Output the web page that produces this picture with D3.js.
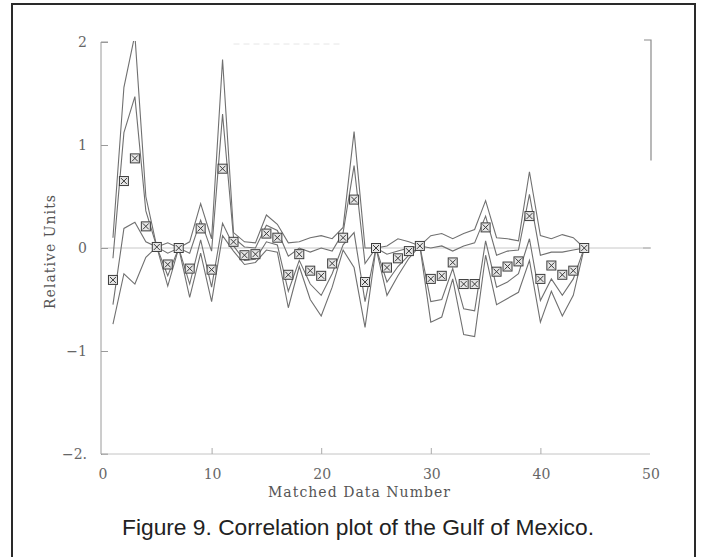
<!DOCTYPE html>
<html>
<head>
<meta charset="utf-8">
<script src="https://cdn.jsdelivr.net/npm/d3@7/dist/d3.min.js"></script>
<style>
  html, body { margin: 0; padding: 0; background: #fff; }
  svg { display: block; }
</style>
</head>
<body>
<svg id="chart" width="702" height="557"></svg>
<script>
// ---- data ----
const dataNumber = [1,2,3,4,5,6,7,8,9,10,11,12,13,14,15,16,17,18,19,20,21,22,23,24,25,26,27,28,29,30,31,32,33,34,35,36,37,38,39,40,41,42,43,44];
const observed = [-0.31,0.65,0.87,0.21,0.01,-0.16,0.00,-0.20,0.19,-0.21,0.77,0.06,-0.07,-0.06,0.14,0.10,-0.26,-0.06,-0.22,-0.27,-0.15,0.10,0.47,-0.33,0.00,-0.19,-0.10,-0.03,0.02,-0.30,-0.27,-0.14,-0.35,-0.35,0.20,-0.23,-0.18,-0.13,0.31,-0.30,-0.17,-0.26,-0.22,0.00];
const upperOuter = [0.10,1.56,2.07,0.50,0.01,0.05,0.00,0.06,0.43,0.09,1.83,0.15,0.06,0.05,0.32,0.23,0.05,0.06,0.10,0.12,0.09,0.20,1.13,0.00,0.00,0.02,0.09,0.06,0.02,0.12,0.14,0.09,0.14,0.18,0.46,0.10,0.09,0.07,0.74,0.12,0.09,0.13,0.10,0.00];
const upperInner = [-0.10,1.12,1.47,0.36,0.01,-0.05,0.00,-0.05,0.27,-0.03,1.30,0.10,0.01,0.00,0.22,0.17,-0.08,0.00,-0.04,0.00,-0.03,0.15,0.80,-0.15,0.00,-0.06,-0.03,0.00,0.02,0.00,0.02,-0.03,0.02,0.05,0.31,-0.07,-0.03,-0.02,0.52,-0.07,-0.04,-0.04,-0.02,0.00];
const lowerInner = [-0.55,0.19,0.25,0.06,0.01,-0.27,0.00,-0.35,0.08,-0.38,0.24,0.02,-0.12,-0.11,0.06,0.03,-0.42,-0.12,-0.35,-0.46,-0.25,0.03,0.15,-0.52,0.00,-0.33,-0.18,-0.07,0.02,-0.52,-0.50,-0.20,-0.59,-0.61,0.07,-0.38,-0.33,-0.25,0.09,-0.51,-0.30,-0.46,-0.30,0.00];
const lowerOuter = [-0.74,-0.25,-0.35,-0.09,0.01,-0.37,0.00,-0.48,-0.05,-0.52,0.12,-0.03,-0.16,-0.14,-0.02,-0.04,-0.58,-0.18,-0.50,-0.66,-0.38,-0.02,-0.19,-0.77,0.00,-0.46,-0.27,-0.10,0.02,-0.72,-0.67,-0.30,-0.84,-0.86,-0.07,-0.55,-0.49,-0.43,-0.12,-0.72,-0.42,-0.66,-0.46,0.00];
const xTicks = [0,10,20,30,40,50];
const yTicks = [-2,-1,0,1,2];
const xTitle = "Matched Data Number";
const yTitle = "Relative Units";
const caption = "Figure 9. Correlation plot of the Gulf of Mexico.";

// ---- layout ----
const svg = d3.select("#chart");
const x = d3.scaleLinear().domain([0, 50]).range([102, 650]);
const y = d3.scaleLinear().domain([-2, 2]).range([454, 42]);
const serif = "'DejaVu Serif', 'Liberation Serif', serif";

// outer frame
svg.append("rect").attr("x", 12).attr("y", 4).attr("width", 683).attr("height", 580)
  .attr("fill", "none").attr("stroke", "#2a2a2a").attr("stroke-width", 2);

// clip
svg.append("defs").append("clipPath").attr("id", "plotclip")
  .append("rect").attr("x", x(0)).attr("y", y(2) - 1).attr("width", x(50) - x(0)).attr("height", y(-2) - y(2) + 2);

// zero reference line
svg.append("line").attr("x1", x(0)).attr("x2", x(50)).attr("y1", y(0)).attr("y2", y(0))
  .attr("stroke", "#c8c8c8").attr("stroke-width", 1);

// left axis
const yAxis = d3.axisRight(y).tickValues(yTicks).tickSize(7).tickFormat("");
const gy = svg.append("g").attr("transform", `translate(${x(0) - 1},0)`).call(yAxis);
gy.select(".domain").attr("stroke", "#9a9a9a").attr("d", `M7,${y(2)}H0V${y(-2)}H7`);
gy.selectAll(".tick line").attr("stroke", "#9a9a9a");
svg.append("g").selectAll("text").data(yTicks).join("text")
  .attr("x", 87).attr("y", d => y(d) + 5)
  .attr("text-anchor", "end").attr("font-family", serif).attr("font-size", 14).attr("fill", "#666")
  .text(d => d === -2 ? "\u22122." : (d < 0 ? "\u2212" + Math.abs(d) : d));

// bottom axis
const xAxis = d3.axisTop(x).tickValues(xTicks.slice(1, 5)).tickSize(6).tickFormat("");
const gx = svg.append("g").attr("transform", `translate(0,${y(-2)})`).call(xAxis);
gx.select(".domain").attr("stroke", "#c4c4c4").attr("d", `M${x(0)},0H${x(50)}`);
gx.selectAll(".tick line").attr("stroke", "#aaa");
svg.append("g").selectAll("text").data(xTicks).join("text")
  .attr("x", d => x(d) + 1).attr("y", 479)
  .attr("text-anchor", "middle").attr("font-family", serif).attr("font-size", 14).attr("fill", "#666")
  .text(d => d);

// right axis (partially visible in the scan)
svg.append("path").attr("d", `M${x(50) - 6},${y(2) - 2}H${x(50) + 1}V${y(0.85)}`)
  .attr("fill", "none").attr("stroke", "#8a8a8a").attr("stroke-width", 1.2);
svg.append("line").attr("x1", x(50) - 7).attr("x2", x(50) + 1).attr("y1", y(0)).attr("y2", y(0))
  .attr("stroke", "#aaa");
// faint top axis
svg.append("line").attr("x1", x(12)).attr("x2", x(22)).attr("y1", y(2) + 2).attr("y2", y(2) + 2)
  .attr("stroke", "#e6e6e6").attr("stroke-dasharray", "6,4");

// band lines
const line = d3.line().x((d, i) => x(dataNumber[i])).y(d => y(d));
const plot = svg.append("g").attr("clip-path", "url(#plotclip)");
[upperOuter, upperInner, lowerInner, lowerOuter].forEach(s => {
  plot.append("path").datum(s).attr("d", line)
    .attr("fill", "none").attr("stroke", "#707070").attr("stroke-width", 1.1)
    .attr("stroke-linejoin", "miter");
});

// markers (square with X)
const m = plot.append("g").selectAll("g").data(observed).join("g")
  .attr("transform", (d, i) => `translate(${x(dataNumber[i])},${y(d)})`);
m.append("rect").attr("x", -4.5).attr("y", -4.5).attr("width", 9).attr("height", 9)
  .attr("fill", "#e6e6e6").attr("stroke", "#3c3c3c").attr("stroke-width", 1);
m.append("path").attr("d", "M-3,-3L3,3M3,-3L-3,3")
  .attr("stroke", "#3c3c3c").attr("stroke-width", 1);

// axis titles
svg.append("text").attr("x", 359).attr("y", 497).attr("text-anchor", "middle")
  .attr("font-family", serif).attr("font-size", 14).attr("fill", "#555")
  .attr("textLength", 182).attr("lengthAdjust", "spacing").text(xTitle);
svg.append("text").attr("transform", "translate(55,252) rotate(-90)").attr("text-anchor", "middle")
  .attr("font-family", serif).attr("font-size", 14).attr("fill", "#555")
  .attr("textLength", 114).attr("lengthAdjust", "spacing").text(yTitle);

// caption
svg.append("text").attr("x", 122).attr("y", 535)
  .attr("font-family", "'Liberation Sans', Arial, sans-serif").attr("font-size", 22).attr("fill", "#222")
  .attr("textLength", 472).attr("lengthAdjust", "spacingAndGlyphs").text(caption);
</script>
</body>
</html>
